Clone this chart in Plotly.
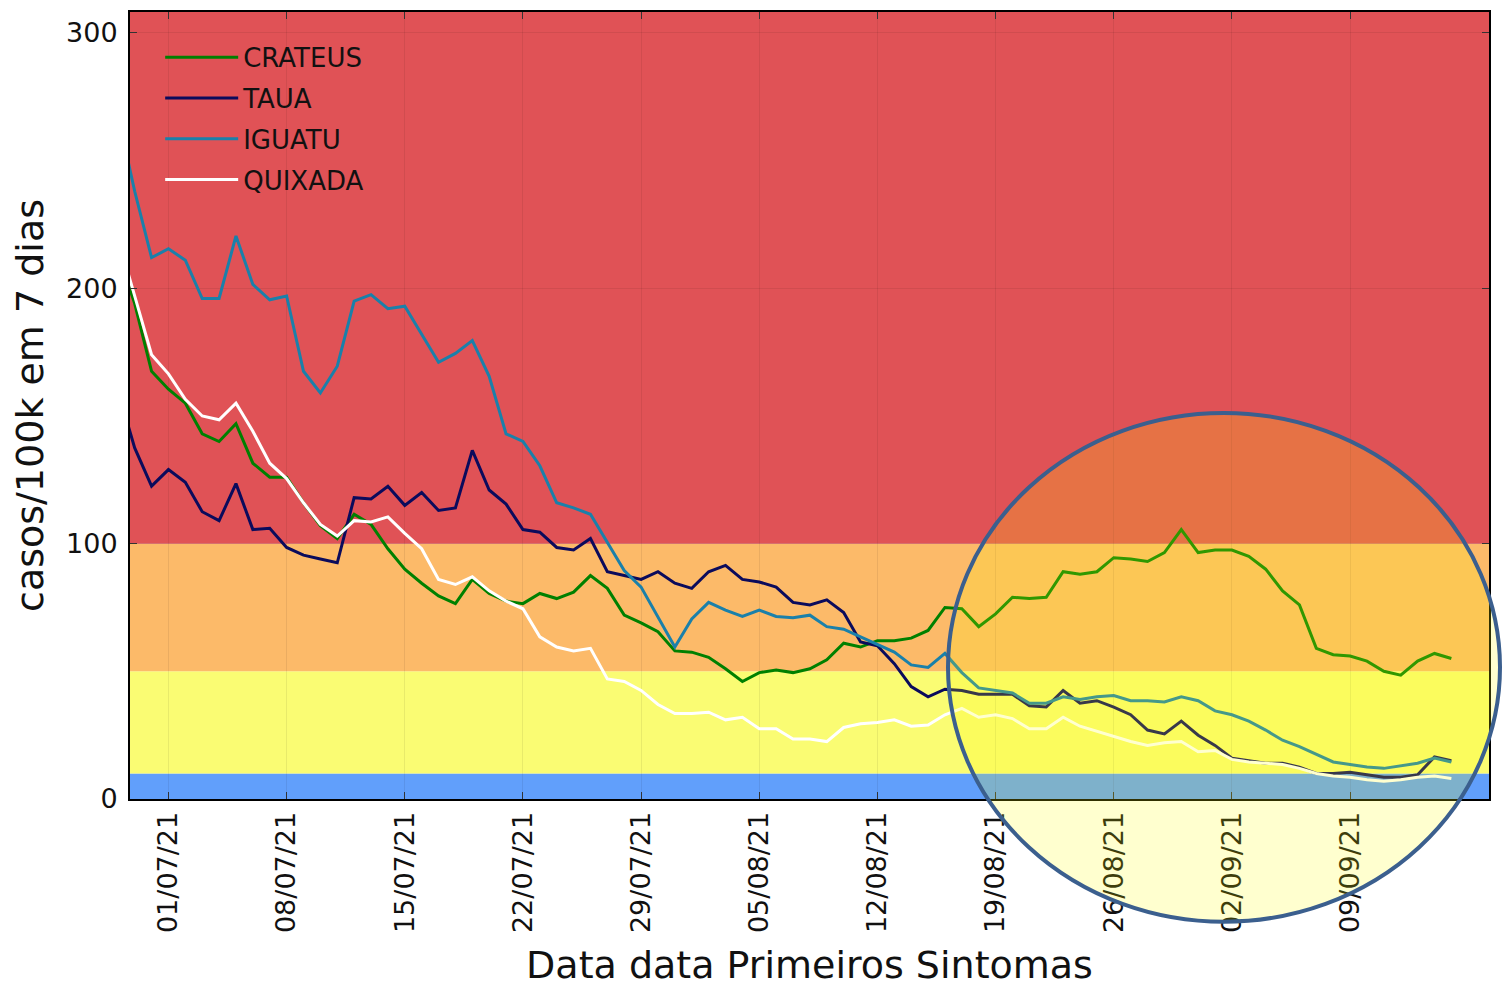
import pandas as pd
import plotly.graph_objects as go

# daily series, 28/06/21 .. 15/09/21 (first day is clipped by the x range)
dates = pd.date_range("2021-06-28", "2021-09-15", freq="D")

crateus = [214, 194, 167.5, 160.5, 155, 143, 140, 147, 131.5, 126, 126, 116, 107, 102, 111.5, 107.5,
           98, 90, 84.5, 79.5, 76.5, 86, 80.5, 77.5, 76.5, 80.5, 78.5, 81, 87.5, 82.5, 72, 69,
           65.5, 58, 57.5, 55.5, 51, 46, 49.5, 50.5, 49.5, 51, 54.5, 61, 59.5, 62, 62, 63,
           66, 75, 74.5, 67.5, 72.5, 79, 78.5, 79, 89, 88, 89, 94.5, 94, 93, 96.5, 105.5,
           96.5, 97.5, 97.5, 95, 90, 81.5, 76, 59, 56.5, 56, 54, 50, 48.5, 54, 57, 55]

taua = [160, 137.5, 122.5, 129, 124, 112.5, 109, 123.5, 105.5, 106, 98.5, 95.5, 94, 92.5, 118, 117.5,
        122.5, 115, 120, 113, 114, 136.5, 121, 115.5, 105.5, 104.5, 98.5, 97.5, 102, 89, 87.5, 86,
        89, 84.5, 82.5, 89, 91.5, 86, 85, 83, 77, 76, 78, 73, 61.5, 60, 53, 44,
        40, 43, 42.5, 41, 41, 41, 36.5, 36, 42.5, 37.5, 38.5, 36, 33, 27, 25.5, 30.5,
        25, 21, 16, 15, 14, 14, 12.5, 10, 10, 10.5, 9.5, 8.5, 8.5, 9.5, 16.5, 15]

iguatu = [268, 238, 212, 215.5, 211, 196, 196, 220.5, 201.5, 195.5, 197, 167.5, 159, 169.5, 195, 197.5,
          192, 193, 182, 171, 174.5, 179.5, 165.5, 143, 140, 130.5, 116, 114, 111.5, 100.5, 89.5, 83,
          71, 59.5, 70.5, 77, 74, 71.5, 74, 71.5, 71, 72, 67.5, 66.5, 63.5, 60.5, 57.5, 52.5,
          51.5, 57, 49.5, 43.5, 42.5, 41.5, 37.5, 37.5, 40, 39, 40, 40.5, 38.5, 38.5, 38, 40,
          38.5, 34.5, 33, 30.5, 27, 23, 20.5, 17.5, 14.5, 13.5, 12.5, 12, 13, 14, 16, 14.5]

quixada = [220, 197, 174, 166.5, 156.5, 150, 148.5, 155, 144, 131.5, 125.5, 116, 107.5, 103, 109, 108.5,
           110.5, 104, 98, 86, 84, 87, 81.5, 77.5, 74.5, 63.5, 59.5, 58, 59, 47, 46, 42.5,
           37, 33.5, 33.5, 34, 31, 32, 27.5, 27.5, 23.5, 23.5, 22.5, 28, 29.5, 30, 31, 28.5,
           29, 33, 35.5, 32, 33, 31.5, 27.5, 27.5, 32, 28.5, 26.5, 24.5, 22.5, 21, 22, 22.5,
           18.5, 19, 15.5, 14.5, 14, 13.5, 12, 10, 9, 8.5, 7.5, 7, 7.5, 8.5, 9, 8]

tick_dates = ["2021-07-01", "2021-07-08", "2021-07-15", "2021-07-22", "2021-07-29", "2021-08-05",
              "2021-08-12", "2021-08-19", "2021-08-26", "2021-09-02", "2021-09-09"]
tick_labels = [pd.Timestamp(d).strftime("%d/%m/%y") for d in tick_dates]

# risk bands (lower, upper, colour)
band_limits = [0, 10, 50, 100, 308.2]
band_colors = ["#619ffb", "#fafc73", "#fcba69", "#e05256"]

FONT = "DejaVu Sans"

fig = go.Figure()
series = [("CRATEUS", crateus, "#008000"), ("TAUA", taua, "#0b0b5c"),
          ("IGUATU", iguatu, "#1a80aa"), ("QUIXADA", quixada, "#ffffff")]
for name, vals, color in series:
    fig.add_trace(go.Scatter(x=dates, y=vals, mode="lines", name=name, legendgroup=name,
                             line=dict(color=color, width=3)))

for lo, hi, col in zip(band_limits[:-1], band_limits[1:], band_colors):
    fig.add_shape(type="rect", xref="paper", yref="y", x0=0, x1=1, y0=lo, y1=hi,
                  fillcolor=col, line_width=0, layer="below")

# highlight circle
fig.add_shape(type="circle", xref="paper", yref="paper",
              x0=(948 - 130) / 1359, x1=(1500 - 130) / 1359,
              y0=(799 - 922) / 789, y1=(799 - 412) / 789,
              fillcolor="rgba(255,255,0,0.19)", line=dict(color="#3b5f8e", width=4), layer="above")

# page body adds an 8px offset, so the figure is 8px smaller on each side
fig.update_layout(
    width=1503, height=984,
    margin=dict(l=122, r=22, t=2, b=193),
    paper_bgcolor="white",
    plot_bgcolor="white",
    font=dict(family=FONT, color="#111111", size=27),
    showlegend=True,
    legend=dict(x=0.0222, y=0.9723, xanchor="left", yanchor="top", bgcolor="rgba(0,0,0,0)",
                font=dict(size=26, family=FONT), itemwidth=73, tracegroupgap=4,
                traceorder="grouped"),
)
fig.update_xaxes(
    range=["2021-06-28 17:20", "2021-09-17 05:30"],
    tickvals=tick_dates, ticktext=tick_labels, tickangle=-90,
    ticks="inside", ticklen=7, tickcolor="#333", tickfont=dict(size=27),
    ticklabelstandoff=0,
    showgrid=True, gridcolor="rgba(0,0,0,0.07)", gridwidth=1,
    showline=True, linecolor="black", linewidth=2, mirror="ticks",
    title=dict(text="Data data Primeiros Sintomas", font=dict(size=38), standoff=19),
    zeroline=False,
)
fig.update_yaxes(
    range=[0, 308.2], tickvals=[0, 100, 200, 300],
    ticks="inside", ticklen=7, tickcolor="#333", tickfont=dict(size=27),
    ticklabelstandoff=5,
    showgrid=True, gridcolor="rgba(0,0,0,0.07)", gridwidth=1,
    showline=True, linecolor="black", linewidth=2, mirror="ticks",
    title=dict(text="casos/100k em 7 dias", font=dict(size=38), standoff=18),
    zeroline=False,
)

fig.write_html("out.html")
